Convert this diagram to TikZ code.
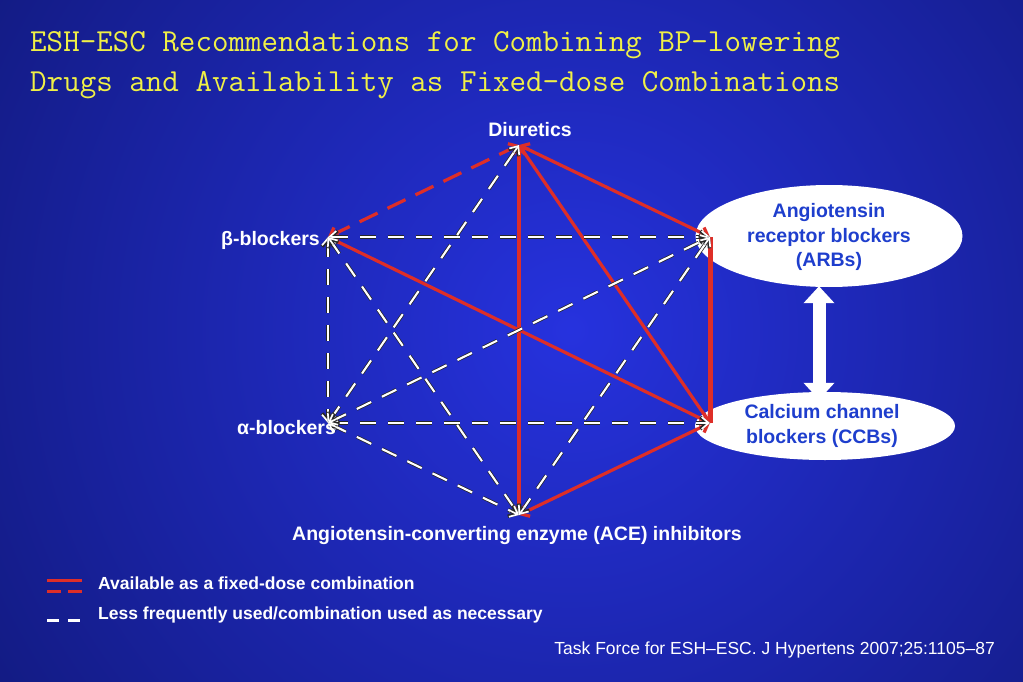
\documentclass[tikz,border=0pt]{standalone}
\usepackage{fontspec}
\setmainfont{Liberation Sans}
\usetikzlibrary{arrows.meta,shapes.geometric,calc}
\definecolor{bgin}{RGB}{38,50,222}
\definecolor{bgout}{RGB}{18,26,128}
\definecolor{redl}{RGB}{222,46,40}
\definecolor{ttl}{RGB}{240,240,70}
\definecolor{elltext}{RGB}{30,62,205}
\begin{document}
\begin{tikzpicture}[x=1pt,y=-1pt,
  mybarb/.tip={Straight Barb[length=7pt,width=12pt]},
  redline/.style={draw=redl,line width=3.2pt,line cap=butt,mybarb-mybarb},
  redthick/.style={draw=redl,line width=5pt},
  reddash/.style={redline,dash pattern=on 20pt off 11pt},
  wout/.style={draw=black!85,line width=3.6pt,dash pattern=on 16pt off 12pt},
  win/.style={draw=white,line width=2.1pt,dash pattern=on 16pt off 12pt},
  tipout/.style={draw=black!85,line width=3.4pt,-mybarb},
  tipin/.style={draw=white,line width=1.7pt,-mybarb},
  lbl/.style={text=white,font=\bfseries\fontsize{19.5}{23}\selectfont,inner sep=0pt},
  elltxt/.style={text=elltext,font=\bfseries\fontsize{19.5}{24.5}\selectfont,align=center,inner sep=0pt},
  ell/.style={ellipse,fill=white,inner sep=0pt},
  leg/.style={text=white,font=\bfseries\fontsize{17.5}{20}\selectfont,inner sep=0pt,anchor=west},
  ttlstyle/.style={anchor=base west,text=ttl,inner sep=0pt,font=\ttfamily\fontsize{32.1}{34}\selectfont},
  bigarrow/.style={draw=white,line width=13pt,{Triangle[length=17pt,width=30pt]}-{Triangle[length=17pt,width=30pt]}}
]
\useasboundingbox (0,0) rectangle (1023,682);
\begin{scope}
\clip (0,0) rectangle (1023,682);
\fill[bgout] (0,0) rectangle (1023,682);
\shade[inner color=bgin,outer color=bgout] (570,330) circle[radius=700pt];
\end{scope}

% title
\node[ttlstyle] (t1) at (30,52) {ESH–ESC Recommendations for Combining BP-lowering};
\node[ttlstyle] (t2) at (30,92) {Drugs and Availability as Fixed-dose Combinations};

% vertices
\coordinate (D) at (519,145);
\coordinate (B) at (328,237);
\coordinate (R) at (710,237);
\coordinate (A) at (328,423);
\coordinate (C) at (710,423);
\coordinate (E) at (519,515);

% ellipses
\node[ell,minimum width=267pt,minimum height=102pt] (arb) at (829,236) {};
\node[ell,minimum width=260pt,minimum height=68pt] (ccb) at (825,426) {};
\node[elltxt] (arbt) at (829,237) {Angiotensin\\receptor blockers\\(ARBs)};
\node[elltxt] (ccbt) at (822,426) {Calcium channel\\blockers (CCBs)};
\draw[bigarrow] ([xshift=-10pt,yshift=1pt]arb.south) -- ([xshift=-6pt,yshift=-8pt]ccb.north);

% red lines
\draw[redthick] (R) -- (C);
\draw[redline] (D) -- (R);
\draw[redline] (D) -- (C);
\draw[redline] (D) -- (E);
\draw[redline] (B) -- (C);
\draw[redline] (E) -- (C);
\draw[reddash] (B) -- (D);

% white dashed lines with outlined dashes and open tips
\foreach \p/\q in {B/R, A/C, B/A, B/E, A/E, A/D, A/R, E/R} {
  \draw[wout] ($(\p)!4pt!(\q)$) -- ($(\q)!4pt!(\p)$);
  \draw[win] ($(\p)!4pt!(\q)$) -- ($(\q)!4pt!(\p)$);
  \draw[tipout] ($(\p)!9pt!(\q)$) -- (\p);
  \draw[tipout] ($(\q)!9pt!(\p)$) -- (\q);
  \draw[tipin] ($(\p)!9pt!(\q)$) -- (\p);
  \draw[tipin] ($(\q)!9pt!(\p)$) -- (\q);
}

% labels
\node[lbl,anchor=base] (dl) at (530,137) {Diuretics};
\node[lbl,anchor=base east] (bl) at (320,245) {β-blockers};
\node[lbl,anchor=base west] (al) at (237,434) {α-blockers};
\node[lbl,anchor=base] (el) at (517,540) {Angiotensin-converting enzyme (ACE) inhibitors};

% legend
\coordinate (r1a) at (47,580); \coordinate (r1b) at (82,580);
\coordinate (r2a) at (47,591); \coordinate (r2b) at (82,591);
\coordinate (w1a) at (47,620); \coordinate (w1b) at (80,620);
\draw[draw=redl,line width=3pt] (r1a) -- (r1b);
\draw[draw=redl,line width=3pt,dash pattern=on 14pt off 7pt] (r2a) -- (r2b);
\draw[draw=white,line width=3pt,dash pattern=on 12pt off 9pt] (w1a) -- (w1b);
\node[leg] (lg1) at (98,583) {Available as a fixed-dose combination};
\node[leg] (lg2) at (98,615) {Less frequently used/combination used as necessary};

% citation
\node[anchor=base east,text=white,inner sep=0pt,font=\fontsize{17.5}{20}\selectfont] (cit) at (995,654)
  {Task Force for ESH–ESC. J Hypertens 2007;25:1105–87};
\end{tikzpicture}
\end{document}
